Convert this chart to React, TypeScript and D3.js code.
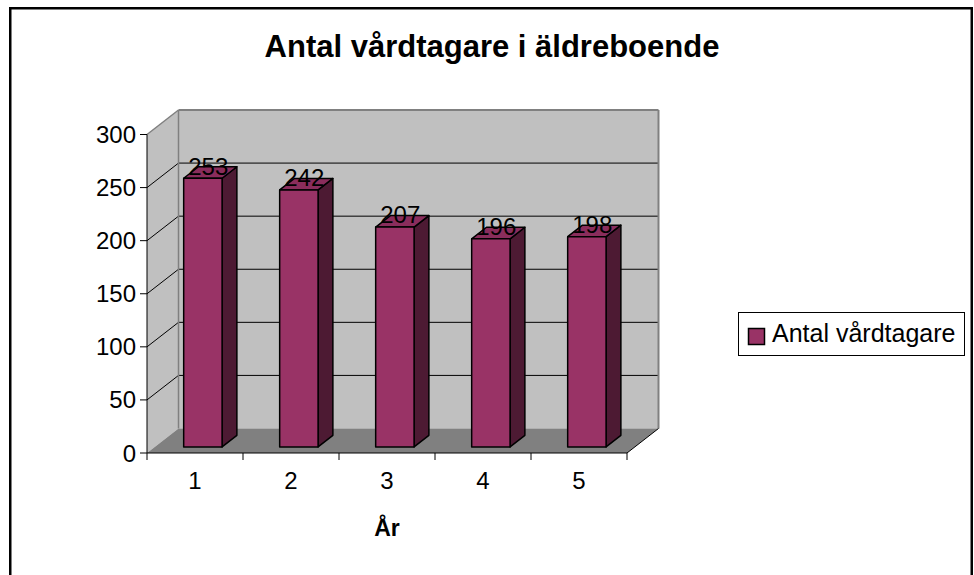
import React from "react";
import * as d3 from "d3";

const categories = ["1", "2", "3", "4", "5"];
const values = [253, 242, 207, 196, 198];
const yTicks = [0, 50, 100, 150, 200, 250, 300];
const seriesName = "Antal vårdtagare";
const title = "Antal vårdtagare i äldreboende";
const xTitle = "År";

const W = 974;
const H = 575;
const X0 = 147;
const X1 = 627;
const Y0 = 453;
const YTOP = 134.5;
const DX = 31.5;
const DY = -24.5;
const F0 = 0.25;
const F1 = 0.72;
const FONT = "Arial, 'Liberation Sans', sans-serif";

export default function App() {
  const y = d3.scaleLinear().domain([0, 300]).range([Y0, YTOP]);
  const x = d3
    .scaleBand<string>()
    .domain(categories)
    .range([X0, X1])
    .paddingInner(0.6)
    .paddingOuter(0.3);
  const step = x.step();
  const pts = (arr: [number, number][]) => arr.map((p) => p.join(",")).join(" ");

  const backTop = y(300) + DY;
  const backBottom = Y0 + DY;

  return (
    <svg
      width={W}
      height={H}
      style={{ position: "absolute", left: 0, top: 0, background: "#fff" }}
      fontFamily={FONT}
    >
      {/* side wall */}
      <polygon
        points={pts([
          [X0, y(300)],
          [X0 + DX, backTop],
          [X0 + DX, backBottom],
          [X0, Y0],
        ])}
        fill="#c0c0c0"
      />
      {/* back wall */}
      <rect x={X0 + DX} y={backTop} width={X1 - X0} height={backBottom - backTop} fill="#c0c0c0" />
      {/* floor */}
      <polygon
        points={pts([
          [X0, Y0],
          [X1, Y0],
          [X1 + DX, backBottom],
          [X0 + DX, backBottom],
        ])}
        fill="#808080"
      />
      {/* gridlines */}
      {yTicks
        .filter((t) => t > 0 && t < 300)
        .map((t) => (
          <g key={"g" + t}>
            <line x1={X0} y1={y(t)} x2={X0 + DX} y2={y(t) + DY} stroke="#000" strokeWidth={1} />
            <line x1={X0 + DX} y1={y(t) + DY} x2={X1 + DX} y2={y(t) + DY} stroke="#000" strokeWidth={1} />
          </g>
        ))}
      {/* wall edges */}
      <line x1={X0} y1={y(300)} x2={X0 + DX} y2={backTop} stroke="#808080" strokeWidth={1.5} />
      <line x1={X0 + DX} y1={backTop} x2={X1 + DX} y2={backTop} stroke="#808080" strokeWidth={2} />
      <line x1={X1 + DX} y1={backTop} x2={X1 + DX} y2={backBottom} stroke="#808080" strokeWidth={2} />
      <line x1={X0 + DX} y1={backTop} x2={X0 + DX} y2={backBottom} stroke="#808080" strokeWidth={1.5} />
      <line x1={X1} y1={Y0} x2={X1 + DX} y2={backBottom} stroke="#000" strokeWidth={1} />

      {/* bars */}
      {values.map((v, i) => {
        const bx = (x(categories[i]) as number) + F0 * DX;
        const bw = x.bandwidth();
        const by0 = Y0 + F0 * DY;
        const byt = y(v) + F0 * DY;
        const ddx = (F1 - F0) * DX;
        const ddy = (F1 - F0) * DY;
        return (
          <g key={"b" + i} stroke="#000" strokeWidth={1.5} strokeLinejoin="round">
            <polygon
              points={pts([
                [bx + bw, byt],
                [bx + bw + ddx, byt + ddy],
                [bx + bw + ddx, by0 + ddy],
                [bx + bw, by0],
              ])}
              fill="#4d1a33"
            />
            <polygon
              points={pts([
                [bx, byt],
                [bx + ddx, byt + ddy],
                [bx + bw + ddx, byt + ddy],
                [bx + bw, byt],
              ])}
              fill="#8a2d5c"
            />
            <rect x={bx} y={byt} width={bw} height={by0 - byt} fill="#993366" />
          </g>
        );
      })}
      {/* data labels */}
      {values.map((v, i) => {
        const cx = (x(categories[i]) as number) + x.bandwidth() / 2 + ((F0 + F1) / 2) * DX;
        const cy = y(v) + ((F0 + F1) / 2) * DY;
        return (
          <text key={"l" + i} x={cx - 2} y={cy + 2} textAnchor="middle" fontSize={24} fill="#000">
            {v}
          </text>
        );
      })}

      {/* axes */}
      <line x1={X0} y1={y(300)} x2={X0} y2={Y0} stroke="#000" strokeWidth={1} />
      <line x1={X0} y1={Y0} x2={X1} y2={Y0} stroke="#000" strokeWidth={1} />
      {yTicks.map((t) => (
        <g key={"yt" + t}>
          <line x1={X0 - 7} y1={y(t)} x2={X0} y2={y(t)} stroke="#000" strokeWidth={1} />
          <text x={X0 - 11} y={y(t) + 8.5} textAnchor="end" fontSize={24} fill="#000">
            {t}
          </text>
        </g>
      ))}
      {d3.range(categories.length + 1).map((k) => (
        <line
          key={"xt" + k}
          x1={X0 + k * step}
          y1={Y0}
          x2={X0 + k * step}
          y2={Y0 + 7}
          stroke="#000"
          strokeWidth={1}
        />
      ))}
      {categories.map((c) => (
        <text
          key={"xl" + c}
          x={(x(c) as number) + x.bandwidth() / 2}
          y={489}
          textAnchor="middle"
          fontSize={24}
          fill="#000"
        >
          {c}
        </text>
      ))}
      <text x={387} y={536} textAnchor="middle" fontSize={23} fontWeight="bold" fill="#000">
        {xTitle}
      </text>

      {/* title */}
      <text x={492} y={57} textAnchor="middle" fontSize={31} fontWeight="bold" fill="#000">
        {title}
      </text>

      {/* legend */}
      <rect x={738.5} y={312.5} width={226} height={43} fill="#fff" stroke="#000" strokeWidth={1} />
      <rect x={748.5} y={328.5} width={16} height={16} fill="#993366" stroke="#000" strokeWidth={1.5} />
      <text x={772} y={342} fontSize={25} fill="#000">
        {seriesName}
      </text>

      {/* outer border */}
      <rect x={10.25} y={8.25} width={961.5} height={620} fill="none" stroke="#000" strokeWidth={2.5} />
    </svg>
  );
}
